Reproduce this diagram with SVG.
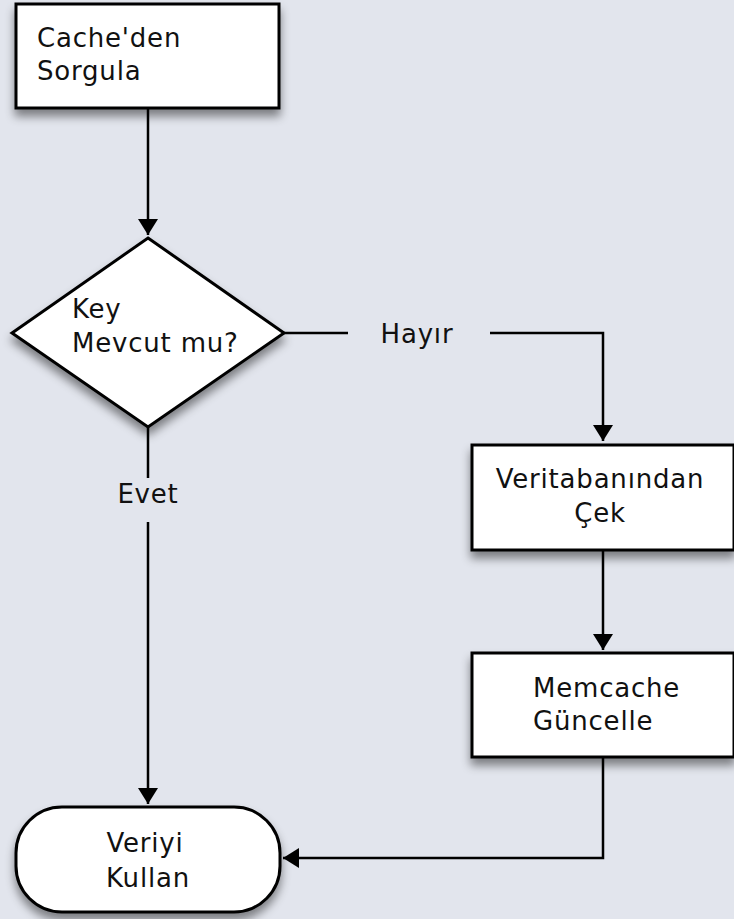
<svg xmlns="http://www.w3.org/2000/svg" width="734" height="919" viewBox="0 0 734 919">
<defs>
<filter id="sh" x="-20%" y="-20%" width="140%" height="150%">
<feDropShadow dx="0" dy="7" stdDeviation="5" flood-color="#000" flood-opacity="0.45"/>
</filter>
<marker id="ah" viewBox="0 0 16 20" refX="16" refY="10" markerWidth="16" markerHeight="20" markerUnits="userSpaceOnUse" orient="auto">
<path d="M0,0 L16,10 L0,20 Z" fill="#000"/>
</marker>
<style>
.n{fill:#fff;stroke:#000;stroke-width:3;filter:url(#sh)}
.t{font-family:"DejaVu Sans","Liberation Sans",sans-serif;font-size:26px;letter-spacing:0.8px;fill:#111}
.c{fill:none;stroke:#000;stroke-width:2.5}
</style>
</defs>
<rect width="734" height="919" fill="#e2e5ed"/>
<g id="connectors">
<path class="c" d="M148,108 V235" marker-end="url(#ah)"/>
<path class="c" d="M284,333 H348"/>
<path class="c" d="M490,333 H603 V441" marker-end="url(#ah)"/>
<path class="c" d="M148,427 V478"/>
<path class="c" d="M148,522 V804" marker-end="url(#ah)"/>
<path class="c" d="M603,550 V650" marker-end="url(#ah)"/>
<path class="c" d="M603,757 V858 H283" marker-end="url(#ah)"/>
<text class="t" x="417" y="343" text-anchor="middle">Hayır</text>
<text class="t" x="148" y="503" text-anchor="middle">Evet</text>
</g>
<g id="cache">
<rect class="n" x="16" y="4" width="263" height="104"/>
<text class="t" x="37" y="47">Cache'den</text>
<text class="t" x="37" y="80">Sorgula</text>
</g>
<g id="key">
<path class="n" d="M148,238 L284,333 L148,427 L12,333 Z"/>
<text class="t" x="72" y="318">Key</text>
<text class="t" x="72" y="352">Mevcut mu?</text>
</g>
<g id="db">
<rect class="n" x="472" y="445" width="262" height="105"/>
<text class="t" x="600" y="488" text-anchor="middle">Veritabanından</text>
<text class="t" x="600" y="522" text-anchor="middle">Çek</text>
</g>
<g id="memcache">
<rect class="n" x="472" y="653" width="262" height="104"/>
<text class="t" x="533" y="697">Memcache</text>
<text class="t" x="533" y="730">Güncelle</text>
</g>
<g id="use">
<rect class="n" x="16" y="807" width="264" height="105" rx="46" ry="46"/>
<text class="t" x="145" y="852" text-anchor="middle">Veriyi</text>
<text class="t" x="148" y="887" text-anchor="middle">Kullan</text>
</g>
</svg>
